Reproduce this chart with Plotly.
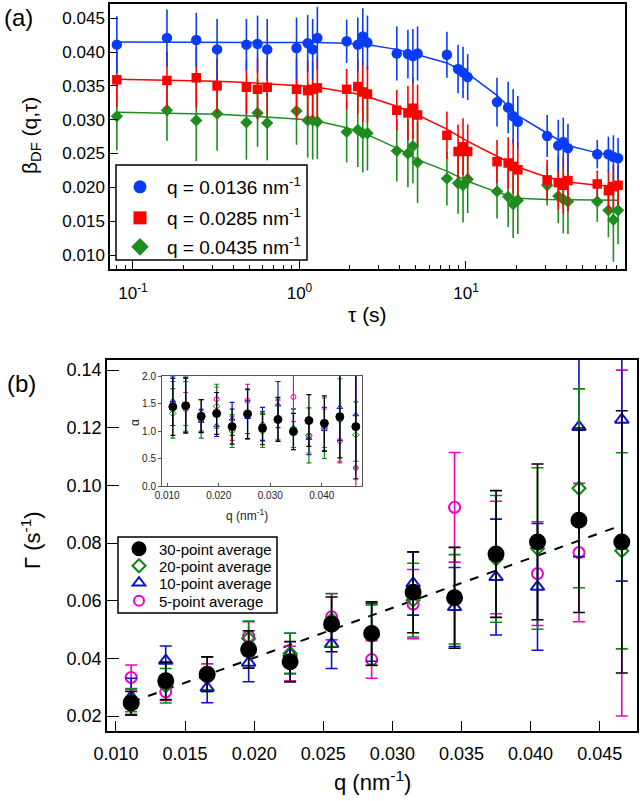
import plotly.graph_objects as go

# ---------------- Panel (a) data ----------------
tau_s = [0.08, 0.16, 0.24, 0.32, 0.48, 0.56, 0.64, 0.96, 1.12, 1.2, 1.28,
         1.92, 2.24, 2.4, 2.56, 3.84, 4.48, 4.8, 5.12, 7.68, 8.96, 9.6, 10.24,
         15.36, 17.92, 19.2, 20.48, 30.72, 35.84, 38.4, 40.96, 61.44, 71.68, 76.8, 81.92]

beta_q0136 = [0.0411, 0.0421, 0.0418, 0.0404, 0.0411, 0.0412, 0.0404, 0.0406, 0.0413, 0.0404, 0.0421,
              0.0416, 0.0411, 0.0423, 0.0414, 0.0398, 0.0397, 0.0394, 0.0398, 0.0396, 0.0375, 0.0370, 0.0363,
              0.0326, 0.0318, 0.0305, 0.0297, 0.0276, 0.0262, 0.0267, 0.0258, 0.0249, 0.0249, 0.0245, 0.0243]
err_q0136 = [0.0042, 0.0042, 0.0040, 0.0045, 0.0038, 0.0042, 0.0045, 0.0045, 0.0042, 0.0045, 0.0046,
             0.0032, 0.0040, 0.0042, 0.0040, 0.0040, 0.0036, 0.0040, 0.0040, 0.0034, 0.0036, 0.0038, 0.0034,
             0.0036, 0.0038, 0.0040, 0.0038, 0.0031, 0.0038, 0.0036, 0.0036, 0.0021, 0.0026, 0.0032, 0.0030]
fit_q0136 = [0.0415, 0.0415, 0.0415, 0.0415, 0.0415, 0.0415, 0.0415, 0.0414, 0.0414, 0.0414, 0.0414,
             0.0413, 0.0412, 0.0412, 0.0411, 0.0404, 0.0400, 0.0398, 0.0396, 0.0384, 0.0376, 0.0372, 0.0368,
             0.0336, 0.0320, 0.0313, 0.0306, 0.0280, 0.0270, 0.0266, 0.0262, 0.0251, 0.0249, 0.0248, 0.0247]

beta_q0285 = [0.0359, 0.0358, 0.0362, 0.0350, 0.0348, 0.0345, 0.0348, 0.0345, 0.0343, 0.0345, 0.0347,
              0.0345, 0.0349, 0.0341, 0.0338, 0.0314, 0.0310, 0.0317, 0.0307, 0.0277, 0.0253, 0.0260, 0.0253,
              0.0238, 0.0236, 0.0231, 0.0226, 0.0211, 0.0207, 0.0203, 0.0210, 0.0205, 0.0195, 0.0201, 0.0203]
err_q0285 = [0.0040, 0.0042, 0.0045, 0.0040, 0.0040, 0.0045, 0.0042, 0.0045, 0.0045, 0.0042, 0.0045,
             0.0030, 0.0040, 0.0045, 0.0042, 0.0030, 0.0040, 0.0045, 0.0045, 0.0035, 0.0040, 0.0042, 0.0040,
             0.0032, 0.0038, 0.0040, 0.0040, 0.0030, 0.0040, 0.0042, 0.0045, 0.0020, 0.0030, 0.0032, 0.0030]
fit_q0285 = [0.0360, 0.0359, 0.0358, 0.0357, 0.0355, 0.0354, 0.0353, 0.0351, 0.0350, 0.0349, 0.0348,
             0.0341, 0.0338, 0.0336, 0.0334, 0.0320, 0.0313, 0.0310, 0.0307, 0.0286, 0.0277, 0.0272, 0.0268,
             0.0246, 0.0238, 0.0234, 0.0230, 0.0215, 0.0211, 0.0209, 0.0208, 0.0203, 0.0202, 0.0202, 0.0202]

beta_q0435 = [0.0305, 0.0314, 0.0299, 0.0309, 0.0296, 0.0310, 0.0295, 0.0313, 0.0299, 0.0299, 0.0297,
              0.0282, 0.0285, 0.0280, 0.0280, 0.0254, 0.0250, 0.0261, 0.0237, 0.0213, 0.0206, 0.0203, 0.0212,
              0.0194, 0.0186, 0.0175, 0.0181, 0.0203, 0.0187, 0.0182, 0.0179, 0.0179, 0.0166, 0.0152, 0.0166]
err_q0435 = [0.0050, 0.0045, 0.0060, 0.0055, 0.0055, 0.0050, 0.0055, 0.0050, 0.0055, 0.0058, 0.0055,
             0.0045, 0.0055, 0.0058, 0.0055, 0.0045, 0.0050, 0.0055, 0.0060, 0.0040, 0.0045, 0.0055, 0.0050,
             0.0040, 0.0045, 0.0050, 0.0050, 0.0030, 0.0040, 0.0050, 0.0048, 0.0030, 0.0040, 0.0062, 0.0050]
fit_q0435 = [0.0311, 0.0310, 0.0309, 0.0308, 0.0306, 0.0305, 0.0304, 0.0302, 0.0300, 0.0299, 0.0298,
             0.0288, 0.0283, 0.0281, 0.0278, 0.0258, 0.0250, 0.0245, 0.0241, 0.0224, 0.0216, 0.0212, 0.0209,
             0.0193, 0.0188, 0.0186, 0.0184, 0.0182, 0.0182, 0.0182, 0.0182, 0.0182, 0.0182, 0.0182, 0.0181]

legend_a = ["q = 0.0136 nm<sup>-1</sup>", "q = 0.0285 nm<sup>-1</sup>", "q = 0.0435 nm<sup>-1</sup>"]

# ---------------- Panel (b) data ----------------
q_nm = [0.0111, 0.0136, 0.0166, 0.0196, 0.0226, 0.0256, 0.0285, 0.0315, 0.0345, 0.0375, 0.0405, 0.0435, 0.0466]

gamma_30 = [0.0245, 0.0322, 0.0345, 0.0431, 0.0388, 0.0518, 0.0486, 0.0629, 0.0610, 0.0762, 0.0804, 0.0879, 0.0804]
gerr_30 = [0.0040, 0.0065, 0.0060, 0.0065, 0.0070, 0.0095, 0.0110, 0.0140, 0.0175, 0.0220, 0.0270, 0.0320, 0.0455]
gamma_20 = [0.0255, 0.0305, 0.0345, 0.0469, 0.0417, 0.0533, 0.0480, 0.0602, 0.0605, 0.0745, 0.0781, 0.0990, 0.0773]
gerr_20 = [0.0040, 0.0060, 0.0060, 0.0060, 0.0070, 0.0092, 0.0105, 0.0128, 0.0155, 0.0220, 0.0280, 0.0345, 0.0340]
gamma_10 = [0.0267, 0.0392, 0.0298, 0.0385, 0.0417, 0.0450, 0.0490, 0.0660, 0.0578, 0.0682, 0.0648, 0.1203, 0.1228]
gerr_10 = [0.0064, 0.0051, 0.0052, 0.0066, 0.0070, 0.0085, 0.0100, 0.0110, 0.0137, 0.0201, 0.0220, 0.0450, 0.0560]
gamma_5 = [0.0334, 0.0284, 0.0336, 0.0477, 0.0382, 0.0544, 0.0396, 0.0588, 0.0924, 0.0750, 0.0694, 0.0767, 0.0800]
gerr_5 = [0.0043, 0.0030, 0.0045, 0.0050, 0.0060, 0.0080, 0.0065, 0.0120, 0.0190, 0.0195, 0.0180, 0.0240, 0.0600]

fit_q = [0.0111, 0.0466]
fit_gamma = [0.0248, 0.0862]

legend_b = ["30-point average", "20-point average", "10-point average", "5-point average"]

# inset: stretching exponent alpha
alpha_30 = [1.44, 1.46, 1.27, 1.32, 1.08, 1.31, 1.05, 1.21, 0.99, 1.19, 1.14, 1.26, 1.08]
aerr_30 = [0.52, 0.50, 0.30, 0.38, 0.32, 0.45, 0.30, 0.40, 0.33, 0.47, 0.50, 0.75, 0.95]
alpha_20 = [1.32, 1.45, 1.22, 1.45, 1.00, 1.30, 1.00, 1.20, 1.05, 0.92, 1.05, 1.20, 0.93]
aerr_20 = [0.45, 0.45, 0.35, 0.40, 0.30, 0.45, 0.30, 0.38, 0.35, 0.50, 0.55, 0.75, 0.60]
alpha_10 = [1.55, 1.48, 1.18, 1.10, 1.22, 1.25, 1.13, 1.48, 1.05, 0.87, 1.03, 1.43, 1.30]
aerr_10 = [0.45, 0.50, 0.20, 0.20, 0.30, 0.30, 0.30, 0.42, 0.35, 0.30, 0.40, 0.60, 0.85]
alpha_5 = [1.50, 1.40, 1.20, 1.58, 1.05, 1.55, 1.07, 1.20, 1.62, 0.90, 1.05, 0.82, 0.33]
aerr_5 = [0.40, 0.30, 0.20, 0.22, 0.22, 0.30, 0.25, 0.35, 0.45, 0.30, 0.35, 0.40, 1.70]

# ---------------- styling ----------------
W, H = 640, 801
FONT = "Liberation Sans, Arial, sans-serif"
BLUE_A, RED_A, GREEN_A = "#0a3cf5", "#ff0000", "#1e8c1e"
BLACK_B, GREEN_B, BLUE_B, MAG_B = "#000000", "#0a8a0a", "#1010d0", "#ee00cc"


def px(xp):
    return xp / W


def py(yp):
    return 1 - yp / H


fig = go.Figure()

# Panel (a): green, red, blue (blue on top)
series_a = [
    (beta_q0435, err_q0435, fit_q0435, GREEN_A, "diamond", 9.5),
    (beta_q0285, err_q0285, fit_q0285, RED_A, "square", 9.5),
    (beta_q0136, err_q0136, fit_q0136, BLUE_A, "circle", 10.5),
]
for vals, errs, fits, col, sym, sz in series_a:
    fig.add_trace(go.Scatter(
        x=tau_s, y=vals, mode="markers", xaxis="x", yaxis="y", showlegend=False,
        marker=dict(symbol=sym, size=sz, color=col, line=dict(width=0)),
        error_y=dict(type="data", array=errs, visible=True, color=col, thickness=1.6, width=0)))
    fig.add_trace(go.Scatter(
        x=tau_s, y=fits, mode="lines", xaxis="x", yaxis="y", showlegend=False,
        line=dict(color=col, width=1.5)))

# legend-only entries for panel (a)
leg_a_specs = [(BLUE_A, "circle", 13), (RED_A, "square", 13), (GREEN_A, "diamond", 13.5)]
for i, (name, (col, sym, sz)) in enumerate(zip(legend_a, leg_a_specs)):
    fig.add_trace(go.Scatter(
        x=[None], y=[None], mode="markers", name=name, xaxis="x", yaxis="y",
        legend="legend" if i == 0 else "legend%d" % (i + 1),
        marker=dict(symbol=sym, size=sz, color=col)))

# Panel (b)
fig.add_trace(go.Scatter(x=fit_q, y=fit_gamma, mode="lines", xaxis="x2", yaxis="y2",
                         showlegend=False, line=dict(color="black", width=2, dash="dash")))
series_b = [
    (gamma_5, gerr_5, MAG_B, "circle-open", 11),
    (gamma_10, gerr_10, BLUE_B, "triangle-up-open", 12),
    (gamma_20, gerr_20, GREEN_B, "diamond-open", 10),
    (gamma_30, gerr_30, BLACK_B, "circle", 15),
]
for vals, errs, col, sym, sz in series_b:
    fig.add_trace(go.Scatter(
        x=q_nm, y=vals, mode="markers", xaxis="x2", yaxis="y2", showlegend=False,
        marker=dict(symbol=sym, size=sz, color=col, line=dict(width=2, color=col)),
        error_y=dict(type="data", array=errs, visible=True, color=col, thickness=1.6, width=6)))

leg_b_specs = [(BLACK_B, "circle", 13), (GREEN_B, "diamond-open", 10),
               (BLUE_B, "triangle-up-open", 11), (MAG_B, "circle-open", 10)]
for i, (name, (col, sym, sz)) in enumerate(zip(legend_b, leg_b_specs)):
    fig.add_trace(go.Scatter(
        x=[None], y=[None], mode="markers", name=name, xaxis="x2", yaxis="y2",
        legend="legend%d" % (i + 4),
        marker=dict(symbol=sym, size=sz, color=col, line=dict(width=2, color=col))))

# Inset
series_i = [
    (alpha_5, aerr_5, MAG_B, "circle-open", 5),
    (alpha_10, aerr_10, BLUE_B, "triangle-up-open", 5),
    (alpha_20, aerr_20, GREEN_B, "diamond-open", 5),
    (alpha_30, aerr_30, BLACK_B, "circle", 8),
]
for vals, errs, col, sym, sz in series_i:
    fig.add_trace(go.Scatter(
        x=q_nm, y=vals, mode="markers", xaxis="x3", yaxis="y3", showlegend=False,
        marker=dict(symbol=sym, size=sz, color=col, line=dict(width=1, color=col)),
        error_y=dict(type="data", array=errs, visible=True, color=col, thickness=1.2, width=2.5)))

# ---------------- axes ----------------
axis_common = dict(showline=True, linecolor="black", linewidth=1.5, mirror=True, showgrid=False,
                   zeroline=False, ticks="inside", tickcolor="black", tickwidth=1.2, automargin=False)

minor_log = [0.08, 0.09, 0.2, 0.3, 0.4, 0.5, 0.6, 0.7, 0.8, 0.9,
             2, 3, 4, 5, 6, 7, 8, 9, 20, 30, 40, 50, 60, 70, 80, 90]

fig.update_layout(
    width=W, height=H, margin=dict(l=0, r=0, t=0, b=0, autoexpand=False),
    paper_bgcolor="white", plot_bgcolor="white",
    font=dict(family=FONT, color="black"),
    xaxis=dict(axis_common, domain=[px(110), px(625)], anchor="y", type="log",
               range=[-1.138, 1.955], tickvals=[0.1, 1, 10],
               ticktext=["10<sup>-1</sup>", "10<sup>0</sup>", "10<sup>1</sup>"],
               ticklen=8, tickfont=dict(size=17), ticklabelstandoff=8,
               minor=dict(tickvals=minor_log, ticks="inside", ticklen=4, tickcolor="black", showgrid=False)),
    yaxis=dict(axis_common, domain=[py(269), py(4)], anchor="x", range=[0.00793, 0.04711],
               tick0=0.010, dtick=0.005, tickformat=".3f", ticklen=8, tickfont=dict(size=17)),
    xaxis2=dict(axis_common, domain=[px(107), px(637)], anchor="y2", range=[0.00935, 0.0477],
                tick0=0.010, dtick=0.005, tickformat=".3f", ticklen=10, tickfont=dict(size=18),
                ticklabelstandoff=6),
    yaxis2=dict(axis_common, domain=[py(731), py(360)], anchor="x2", range=[0.0148, 0.1435],
                tick0=0.02, dtick=0.02, tickformat=".2f", ticklen=12, tickfont=dict(size=18)),
    xaxis3=dict(showline=True, linecolor="#555555", linewidth=1, mirror=True, showgrid=False,
                zeroline=False, ticks="inside", ticklen=3, tickcolor="#555555", automargin=False,
                domain=[px(162), px(362)], anchor="y3", range=[0.009, 0.0478],
                tick0=0.010, dtick=0.010, tickformat=".3f", tickfont=dict(size=10, color="#222222")),
    yaxis3=dict(showline=True, linecolor="#555555", linewidth=1, mirror=True, showgrid=False,
                zeroline=False, ticks="outside", ticklen=3, tickcolor="#555555", automargin=False,
                domain=[py(486), py(376)], anchor="x3", range=[0, 2.0],
                tick0=0, dtick=0.5, tickformat=".1f", tickfont=dict(size=10, color="#222222")),
)

# legends (one per entry so spacing matches the original)
leg_a_y = [187, 218, 247]
for i, yy in enumerate(leg_a_y):
    key = "legend" if i == 0 else "legend%d" % (i + 1)
    fig.update_layout({key: dict(x=px(113), y=py(yy), xanchor="left", yanchor="middle",
                                 bgcolor="rgba(0,0,0,0)", borderwidth=0, itemwidth=44,
                                 font=dict(family=FONT, size=19, color="black"))})
leg_b_y = [549, 566, 583, 601]
for i, yy in enumerate(leg_b_y):
    key = "legend%d" % (i + 4)
    fig.update_layout({key: dict(x=px(119), y=py(yy), xanchor="left", yanchor="middle",
                                 bgcolor="rgba(0,0,0,0)", borderwidth=0, itemwidth=30,
                                 font=dict(family=FONT, size=15, color="black"))})

fig.add_shape(type="rect", xref="paper", yref="paper", x0=px(116), x1=px(307), y0=py(260), y1=py(165),
              line=dict(color="black", width=1.5), fillcolor="white", layer="above")
fig.add_shape(type="rect", xref="paper", yref="paper", x0=px(118), x1=px(277), y0=py(613), y1=py(537),
              line=dict(color="black", width=1.5), fillcolor="white", layer="above")

# labels and axis titles
ann = [
    dict(text="(a)", x=px(18), y=py(17), font=dict(size=24)),
    dict(text="(b)", x=px(21), y=py(383), font=dict(size=24)),
    dict(text="β<sub>DF</sub> (q,τ)", x=px(31), y=py(136), textangle=-90, font=dict(size=21)),
    dict(text="τ (s)", x=px(367), y=py(314), font=dict(size=21)),
    dict(text="Γ (s<sup>-1</sup>)", x=px(31), y=py(540), textangle=-90, font=dict(size=22)),
    dict(text="q (nm<sup>-1</sup>)", x=px(372), y=py(781), font=dict(size=22)),
    dict(text="α", x=px(135), y=py(423), textangle=-90, font=dict(size=12, color="#222222")),
    dict(text="q (nm<sup>-1</sup>)", x=px(247), y=py(515), font=dict(size=12, color="#222222")),
]
for a in ann:
    fig.add_annotation(xref="paper", yref="paper", showarrow=False, xanchor="center", yanchor="middle",
                       font_family=FONT, **a)

fig.write_html("out.html")
